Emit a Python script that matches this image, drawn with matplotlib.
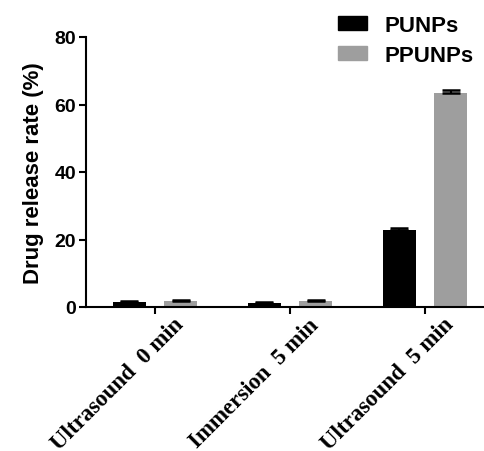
import matplotlib

matplotlib.use("Agg")
import matplotlib.pyplot as plt
import matplotlib.transforms as mtransforms
from matplotlib.patches import Patch
import numpy as np

# values
CONDITIONS = ["Ultrasound  0 min", "Immersion  5 min", "Ultrasound  5 min"]
PUNPS = [1.5, 1.3, 22.8]
PUNPS_ERR = [0.3, 0.3, 0.5]
PPUNPS = [1.8, 1.8, 63.3]
PPUNPS_ERR = [0.2, 0.2, 1.1]
SERIES = ["PUNPs", "PPUNPs"]

BLACK = "#000000"
GRAY = "#9e9e9e"

plt.rcParams["font.family"] = ["Liberation Sans", "DejaVu Sans"]
plt.rcParams["font.weight"] = "bold"

fig = plt.figure(figsize=(4.84, 4.52), dpi=100)
ax = fig.add_axes([86 / 484, 1 - 308 / 452, (484 - 86) / 484, 270 / 452])

x = np.arange(len(CONDITIONS))
off, w = 0.19, 0.245
ax.bar(x - off, PUNPS, w, color=BLACK, zorder=2)
ax.bar(x + off, PPUNPS, w, color=GRAY, zorder=2)
ax.errorbar(x - off, PUNPS, yerr=[np.zeros(3), PUNPS_ERR], fmt="none",
            ecolor=BLACK, elinewidth=1.5, capsize=6.5, capthick=1.8, zorder=3)
ax.errorbar(x + off, PPUNPS, yerr=[np.zeros(3), PPUNPS_ERR], fmt="none",
            ecolor=BLACK, elinewidth=1.5, capsize=6.5, capthick=1.8, zorder=3)

ax.set_xlim(-0.511, 2.437)
ax.set_ylim(0, 80)
ax.set_yticks([0, 20, 40, 60, 80])
ax.tick_params(axis="y", labelsize=14, width=1.5, length=5, pad=2)
ax.tick_params(axis="x", width=1.5, length=5)
for lab in ax.get_yticklabels():
    lab.set_fontweight("bold")

ax.set_xticks(x)
ax.set_xticklabels(CONDITIONS, rotation=45, ha="right", va="top",
                   rotation_mode="anchor", fontsize=16.5, fontweight="bold",
                   family=["Liberation Serif", "DejaVu Serif"])
shift = mtransforms.ScaledTranslation(18 / 100, 5 / 100, fig.dpi_scale_trans)
for lab in ax.get_xticklabels():
    lab.set_transform(lab.get_transform() + shift)

ax.set_ylabel("Drug release rate (%)", fontsize=16, fontweight="bold", labelpad=8)

for s in ["top", "right"]:
    ax.spines[s].set_visible(False)
for s in ["left", "bottom"]:
    ax.spines[s].set_linewidth(1.5)

handles = [Patch(color=BLACK, label=SERIES[0]), Patch(color=GRAY, label=SERIES[1])]
ax.legend(handles=handles, loc="upper left", bbox_to_anchor=(338 / 484, 1 - 16 / 452),
          bbox_transform=fig.transFigure, frameon=False,
          handlelength=1.3, handleheight=0.63, handletextpad=0.8,
          labelspacing=0.4, borderpad=0, borderaxespad=0,
          prop={"weight": "bold", "size": 16})

fig.savefig("out.png", dpi=100)
